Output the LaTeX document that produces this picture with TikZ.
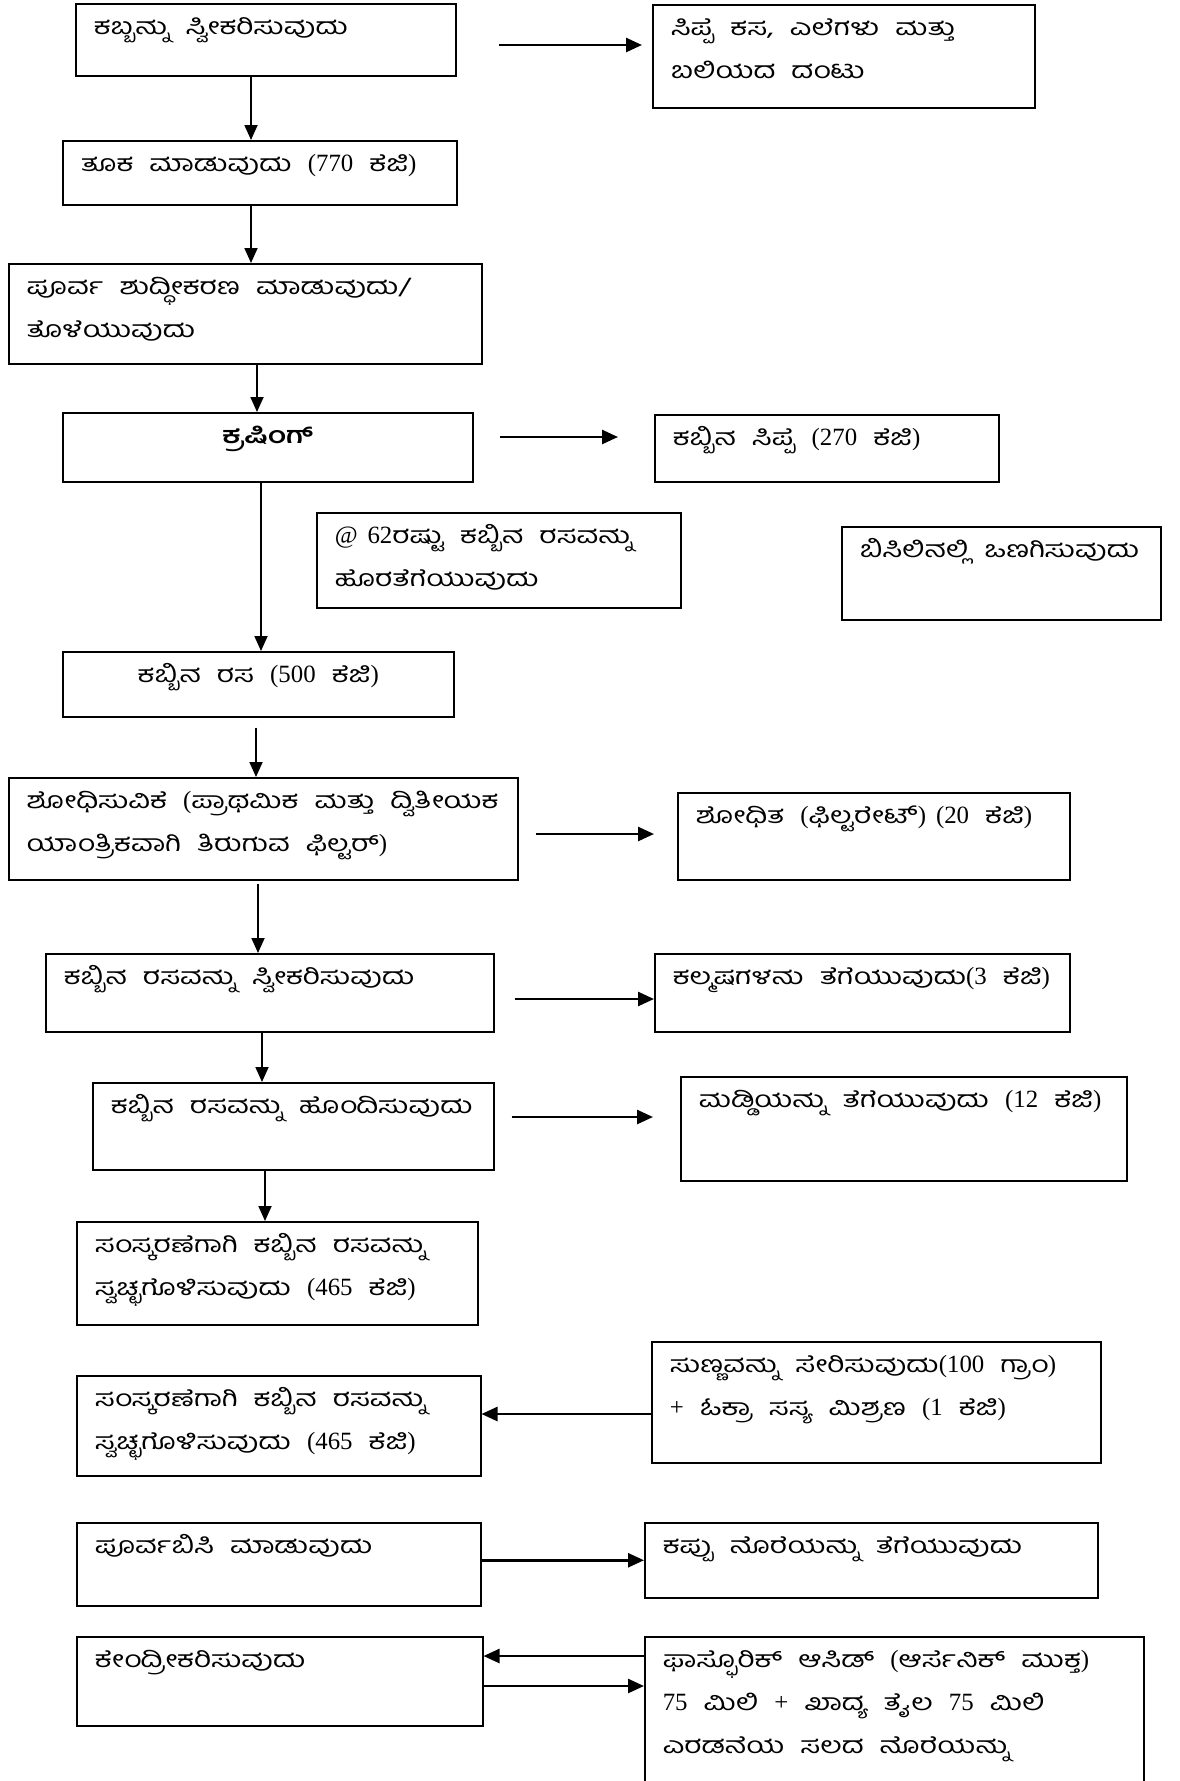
\documentclass[tikz,border=0pt]{standalone}
\usepackage{fontspec}
\setmainfont[Script=Kannada, FakeStretch=1.3, WordSpace=2.2]{Hind Mysuru}
\newfontfamily\latfont[Scale=1.08, WordSpace=1.6]{Liberation Serif}
\usetikzlibrary{arrows.meta,calc}
\newcommand{\nm}[1]{{\latfont #1}}
\newcommand{\boxtext}[3]{\parbox[c][#2pt][t]{\dimexpr#1pt-36pt\relax}{\rule{0pt}{31pt}#3}}
\tikzset{
  stage/.style     = { draw, line width=1.5pt, anchor=north west, inner xsep=18pt, inner ysep=0pt,
                       font=\fontsize{23}{43}\selectfont },
  flowarrow/.style = { line width=1.8pt, -{Triangle[length=15pt,width=13pt]} },
  sidearrow/.style = { line width=2.6pt, -{Triangle[length=16pt,width=14pt]} }
}

\begin{document}
\begin{tikzpicture}[x=1pt,y=-1pt]
\useasboundingbox (0,0) rectangle (1179,1781);
\clip (0,0) rectangle (1179,1781);
\node[stage] (b1) at (75,3) {\boxtext{380}{72}{ಕಬ್ಬನ್ನು ಸ್ವೀಕರಿಸುವುದು}};
\node[stage] (r1) at (652,4) {\boxtext{382}{103}{ಸಿಪ್ಪೆ ಕಸ, ಎಲೆಗಳು ಮತ್ತು\\ ಬಲಿಯದ ದಂಟು}};
\node[stage] (b2) at (62,140) {\boxtext{394}{64}{ತೂಕ ಮಾಡುವುದು \nm{(770} ಕೆಜಿ\nm{)}}};
\node[stage] (b3) at (8,263) {\boxtext{473}{100}{ಪೂರ್ವ ಶುದ್ಧೀಕರಣ ಮಾಡುವುದು/\\ ತೊಳೆಯುವುದು}};
\node[stage] (b4) at (62,412) {\boxtext{410}{69}{\centering\bfseries ಕ್ರಷಿಂಗ್}};
\node[stage] (r4) at (654,414) {\boxtext{344}{67}{ಕಬ್ಬಿನ ಸಿಪ್ಪೆ \nm{(270} ಕೆಜಿ\nm{)}}};
\node[stage] (n62) at (316,512) {\boxtext{364}{95}{\nm{@ 62}ರಷ್ಟು ಕಬ್ಬಿನ ರಸವನ್ನು\\ ಹೊರತೆಗೆಯುವುದು}};
\node[stage] (sun) at (841,526) {\boxtext{319}{93}{ಬಿಸಿಲಿನಲ್ಲಿ ಒಣಗಿಸುವುದು}};
\node[stage] (b5) at (62,651) {\boxtext{391}{65}{\centering ಕಬ್ಬಿನ ರಸ \nm{(500} ಕೆಜಿ\nm{)}}};
\node[stage] (b6) at (8,777) {\boxtext{509}{102}{ಶೋಧಿಸುವಿಕೆ \nm{(}ಪ್ರಾಥಮಿಕ ಮತ್ತು ದ್ವಿತೀಯಕ\\ ಯಾಂತ್ರಿಕವಾಗಿ ತಿರುಗುವ ಫಿಲ್ಟರ್\nm{)}}};
\node[stage] (r6) at (677,792) {\boxtext{392}{87}{ಶೋಧಿತ \nm{(}ಫಿಲ್ಟರೇಟ್\nm{) (20} ಕೆಜಿ\nm{)}}};
\node[stage] (b7) at (45,953) {\boxtext{448}{78}{ಕಬ್ಬಿನ ರಸವನ್ನು ಸ್ವೀಕರಿಸುವುದು}};
\node[stage] (r7) at (654,953) {\boxtext{415}{78}{ಕಲ್ಮಷಗಳನು ತೆಗೆಯುವುದು\nm{(3} ಕೆಜಿ\nm{)}}};
\node[stage] (b8) at (92,1082) {\boxtext{401}{87}{ಕಬ್ಬಿನ ರಸವನ್ನು ಹೊಂದಿಸುವುದು}};
\node[stage] (r8) at (680,1076) {\boxtext{446}{104}{ಮಡ್ಡಿಯನ್ನು ತೆಗೆಯುವುದು \nm{(12} ಕೆಜಿ\nm{)}}};
\node[stage] (b9) at (76,1221) {\boxtext{401}{103}{ಸಂಸ್ಕರಣೆಗಾಗಿ ಕಬ್ಬಿನ ರಸವನ್ನು\\ ಸ್ವಚ್ಛಗೊಳಿಸುವುದು \nm{(465} ಕೆಜಿ\nm{)}}};
\node[stage] (b10) at (76,1375) {\boxtext{404}{100}{ಸಂಸ್ಕರಣೆಗಾಗಿ ಕಬ್ಬಿನ ರಸವನ್ನು\\ ಸ್ವಚ್ಛಗೊಳಿಸುವುದು \nm{(465} ಕೆಜಿ\nm{)}}};
\node[stage] (r10) at (651,1341) {\boxtext{449}{121}{ಸುಣ್ಣವನ್ನು ಸೇರಿಸುವುದು\nm{(100} ಗ್ರಾಂ\nm{)}\\ \nm{+} ಓಕ್ರಾ ಸಸ್ಯ ಮಿಶ್ರಣ \nm{(1} ಕೆಜಿ\nm{)}}};
\node[stage] (b11) at (76,1522) {\boxtext{404}{83}{ಪೂರ್ವಬಿಸಿ ಮಾಡುವುದು}};
\node[stage] (r11) at (644,1522) {\boxtext{453}{75}{ಕಪ್ಪು ನೊರೆಯನ್ನು ತೆಗೆಯುವುದು}};
\node[stage] (b12) at (76,1636) {\boxtext{406}{89}{ಕೇಂದ್ರೀಕರಿಸುವುದು}};
\node[stage] (r12) at (644,1636) {\boxtext{499}{200}{ಫಾಸ್ಫೊರಿಕ್ ಆಸಿಡ್ \nm{(}ಆರ್ಸೆನಿಕ್ ಮುಕ್ತ\nm{)}\\ \nm{75} ಮಿಲಿ \nm{+} ಖಾದ್ಯ ತೈಲ \nm{75} ಮಿಲಿ\\ ಎರಡನೆಯ ಸಲದ ನೊರೆಯನ್ನು}};

\draw[flowarrow] (b1.south -| 251,0) -- (b2.north -| 251,0);
\draw[flowarrow] (b2.south -| 251,0) -- (b3.north -| 251,0);
\draw[flowarrow] (b3.south -| 257,0) -- (b4.north -| 257,0);
\draw[flowarrow] (b4.south -| 261,0) -- (b5.north -| 261,0);
\draw[flowarrow, shorten <=10pt] (b5.south -| 256,0) -- (b6.north -| 256,0);
\draw[flowarrow, shorten <=3pt] (b6.south -| 258,0) -- (b7.north -| 258,0);
\draw[flowarrow] (b7.south -| 262,0) -- (b8.north -| 262,0);
\draw[flowarrow] (b8.south -| 265,0) -- (b9.north -| 265,0);

\draw[sidearrow] ($(b1.north east)+(42,42)$) -- ($(r1.north west)+(-10,41)$);
\draw[sidearrow] ($(b4.north east)+(26,25)$) -- ($(r4.north west)+(-36,23)$);
\draw[sidearrow] ($(b6.north east)+(17,57)$) -- ($(r6.north west)+(-23,42)$);
\draw[sidearrow] ($(b7.north east)+(20,46)$) -- ($(r7.north west)+(0,46)$);
\draw[sidearrow] ($(b8.north east)+(17,35)$) -- ($(r8.north west)+(-27,41)$);
\draw[sidearrow] ($(r10.north west)+(0,73)$) -- ($(b10.north east)+(0,39)$);
\draw[sidearrow] (b11.east |- r11.west) -- (r11.west);
\draw[sidearrow] ($(r12.north west)+(0,20)$) -- ($(b12.north east)+(0,20)$);
\draw[sidearrow] ($(b12.north east)+(0,50)$) -- ($(r12.north west)+(0,50)$);
\end{tikzpicture}
\end{document}
